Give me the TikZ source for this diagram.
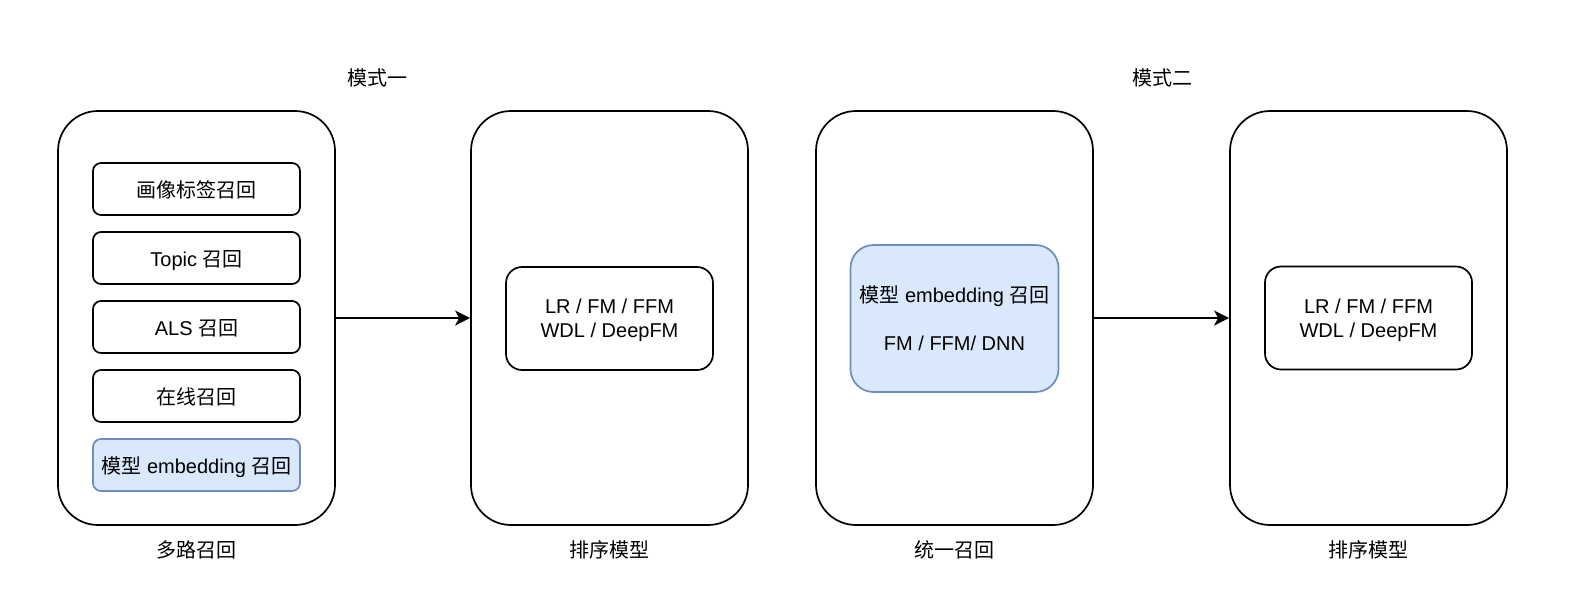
\documentclass[tikz,border=0pt]{standalone}
\usepackage{fontspec}
\setmainfont{Liberation Sans}
\newfontfamily\cjk{Noto Sans CJK SC}
\newcommand{\zh}[1]{{\cjk #1}}
\usetikzlibrary{arrows.meta}
\definecolor{boxblue}{HTML}{DAE8FC}
\definecolor{lineblue}{HTML}{6C8EBF}

\begin{document}
\begin{tikzpicture}[x=1pt,y=-1pt,>={Stealth[length=15pt,width=15pt,inset=4pt]},
  line width=1.7pt,font=\fontsize{20pt}{24pt}\selectfont,
  outer box/.style={draw,rounded corners=40pt,minimum width=277pt,minimum height=414pt},
  recall box/.style={draw,rounded corners=8pt,minimum width=207pt,minimum height=52pt,inner sep=0pt,
    text height=18pt,text depth=2pt},
  rank box/.style={draw,rounded corners=16pt,minimum width=207pt,minimum height=103pt,align=center,
    text height=38pt,text depth=0pt},
  embed box/.style={draw,rounded corners=23pt,minimum width=208pt,minimum height=147pt,align=center},
  blue box/.style={fill=boxblue,draw=lineblue},
  main node/.style={inner sep=0pt}]
  \useasboundingbox (0,0) rectangle (1580,614);
  % mode one
  \node[outer box]   (multi)  at (196.5,318)  {};
  \node[recall box]  (r1)     at (196.5,189)  {\zh{画像标签召回}};
  \node[recall box]  (r2)     at (196.5,258)  {Topic \zh{召回}};
  \node[recall box]  (r3)     at (196.5,327)  {ALS \zh{召回}};
  \node[recall box]  (r4)     at (196.5,396)  {\zh{在线召回}};
  \node[recall box,blue box] (r5) at (196.5,465) {\zh{模型} embedding \zh{召回}};
  \node[outer box]   (rank1)  at (609.5,318)  {};
  \node[rank box]    (m1)     at (609.5,318.5) {LR / FM / FFM\\WDL / DeepFM};
  % mode two
  \node[outer box]   (single) at (954.5,318)  {};
  \node[embed box,blue box] (emb) at (954.5,318.5) {\zh{模型} embedding \zh{召回}\\[24pt]FM / FFM/ DNN};
  \node[outer box]   (rank2)  at (1368.5,318) {};
  \node[rank box]    (m2)     at (1368.5,318) {LR / FM / FFM\\WDL / DeepFM};
  % labels
  \node[main node] (t1) at (377,78)     {\zh{模式一}};
  \node[main node] (t2) at (1162,78)    {\zh{模式二}};
  \node[main node] (b1) at (196.5,550)  {\zh{多路召回}};
  \node[main node] (b2) at (609.5,550)  {\zh{排序模型}};
  \node[main node] (b3) at (954.5,550)  {\zh{统一召回}};
  \node[main node] (b4) at (1368.5,550) {\zh{排序模型}};
  \path
    (multi)  edge [->] (rank1)
    (single) edge [->] (rank2);
\end{tikzpicture}
\end{document}
